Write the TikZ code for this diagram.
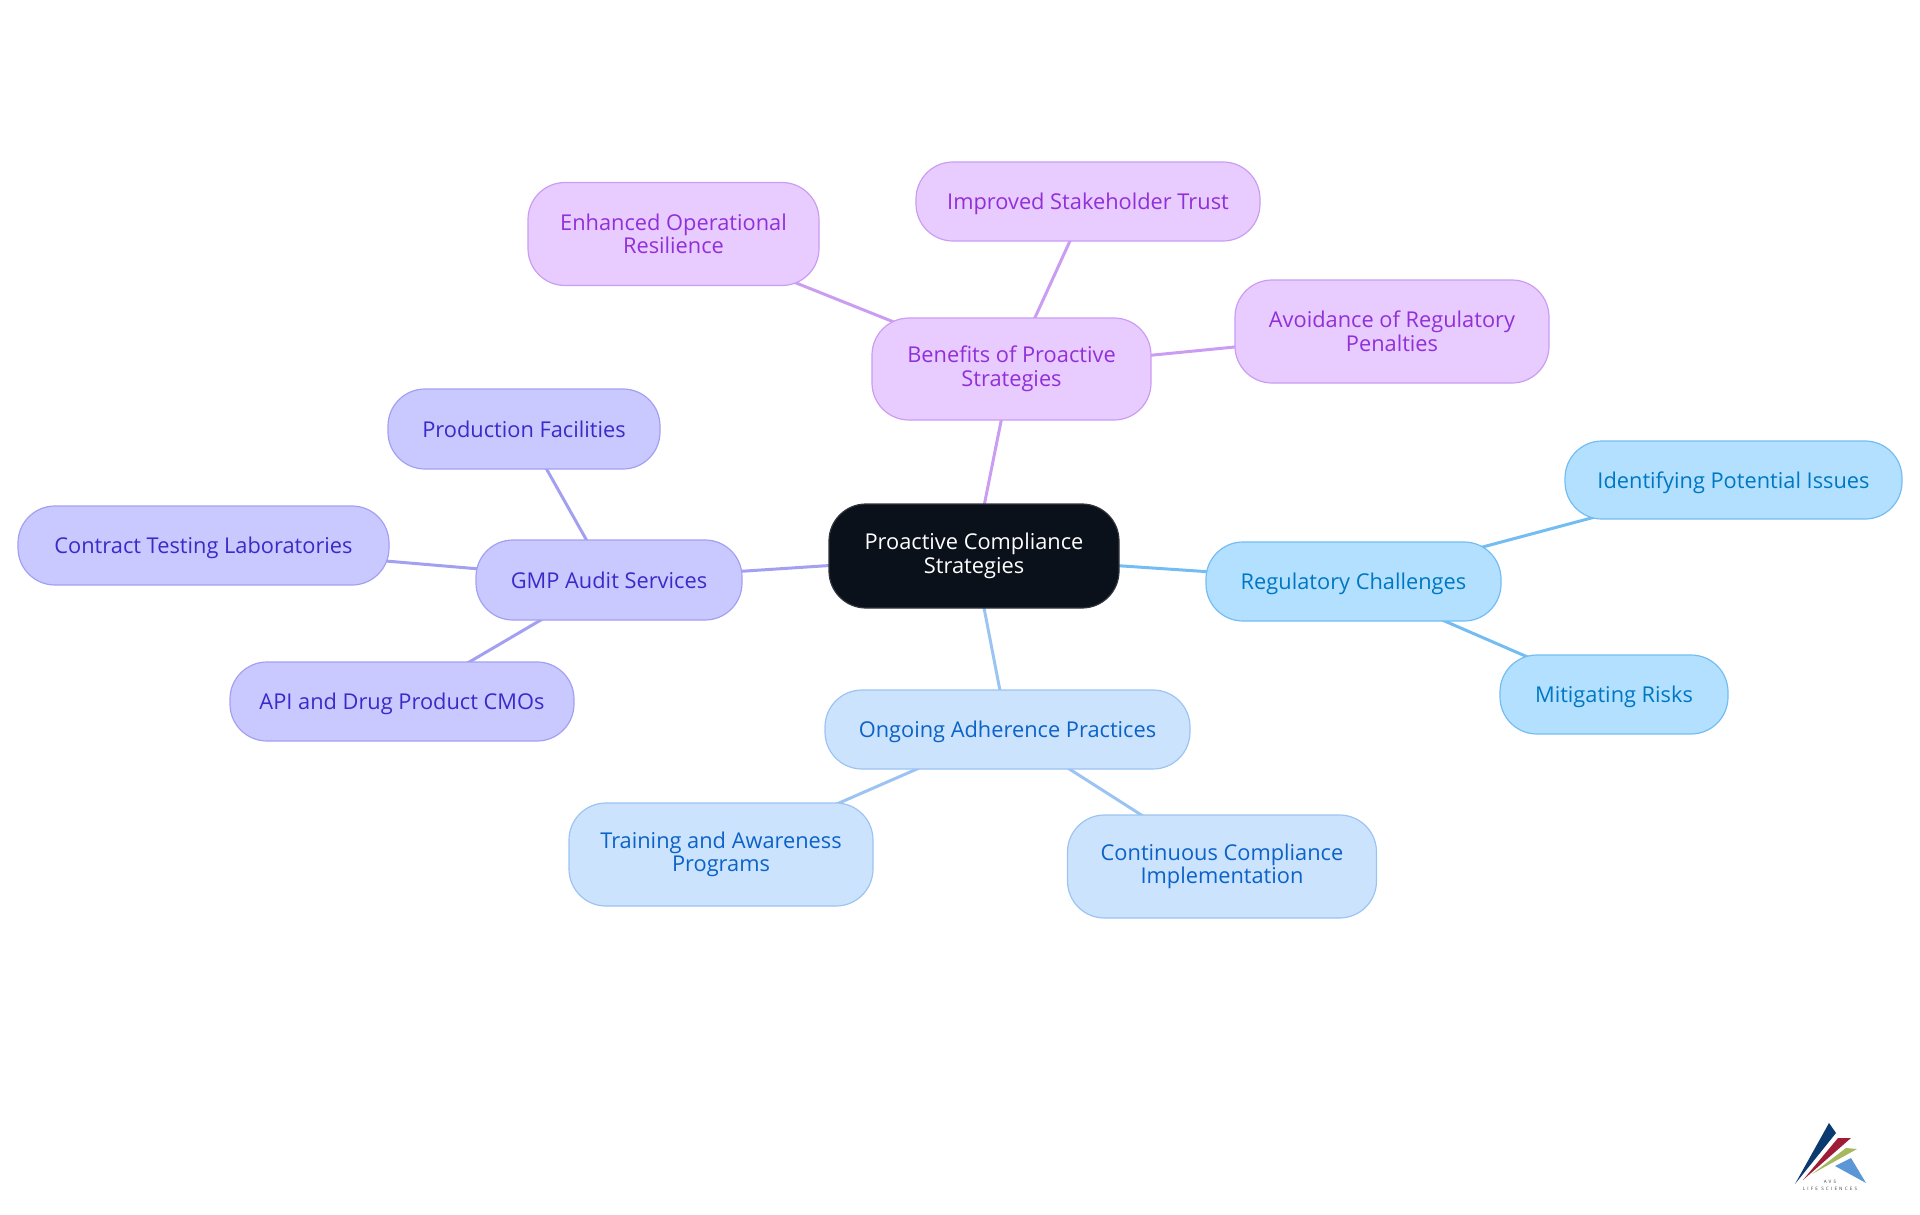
\documentclass[tikz,border=0pt]{standalone}
\usepackage{fontspec}
\setmainfont{Open Sans}
\usepackage{xcolor}
\usetikzlibrary{positioning,backgrounds}
\definecolor{rootfill}{HTML}{0B111A}
\definecolor{purplefill}{HTML}{E8CBFF}
\definecolor{purpledraw}{HTML}{CB9DF2}
\definecolor{purpletext}{HTML}{9130D8}
\definecolor{lavfill}{HTML}{C9C9FF}
\definecolor{lavdraw}{HTML}{A3A0F2}
\definecolor{lavtext}{HTML}{3A2BC8}
\definecolor{bluefill}{HTML}{CCE3FD}
\definecolor{bluedraw}{HTML}{9CC4F2}
\definecolor{bluetext}{HTML}{0B62C9}
\definecolor{skyfill}{HTML}{B3E0FF}
\definecolor{skydraw}{HTML}{73BDF2}
\definecolor{skytext}{HTML}{0077C2}
\definecolor{logonavy}{HTML}{0B3A70}
\definecolor{logored}{HTML}{A01C36}
\definecolor{logogreen}{HTML}{A8B860}
\definecolor{logoblue}{HTML}{5B96D6}
\tikzset{
  blk/.style={draw, rounded corners=37pt, outer sep=0pt, inner sep=0pt, line width=1.2pt, align=center, font=\fontsize{21.8}{23.5}\selectfont},
  rootblk/.style={blk, fill=rootfill, draw=rootfill!85!white, text=white, minimum width=290pt, minimum height=104pt},
  purpleblk/.style={blk, fill=purplefill, draw=purpledraw, text=purpletext},
  lavblk/.style={blk, fill=lavfill, draw=lavdraw, text=lavtext},
  blueblk/.style={blk, fill=bluefill, draw=bluedraw, text=bluetext},
  skyblk/.style={blk, fill=skyfill, draw=skydraw, text=skytext},
  dim/.style 2 args={minimum width=#1pt, minimum height=#2pt},
  oneline/.style={text height=21pt, text depth=5pt},
  arr/.style={line width=3pt},
}
\begin{document}
\begin{tikzpicture}
\useasboundingbox (0pt,0pt) rectangle (1920pt,-1215pt);
\node[rootblk] (root) at (974pt,-556pt) {Proactive Compliance\\Strategies};
% right branch
\node[skyblk, oneline, dim={295}{79}, right=87pt of root, yshift=-25.5pt] (reg) {Regulatory Challenges};
\node[skyblk, oneline, dim={337}{78}, right=64pt of reg, yshift=101.5pt] (issues) {Identifying Potential Issues};
\node[skyblk, oneline, dim={228}{79}, below=34pt of reg, xshift=260.5pt] (risks) {Mitigating Risks};
% bottom branch
\node[blueblk, oneline, dim={365}{79}, below=82pt of root, xshift=33.5pt] (adh) {Ongoing Adherence Practices};
\node[blueblk, dim={304}{103}, below=34pt of adh, xshift=-286.5pt] (train) {Training and Awareness\\Programs};
\node[blueblk, dim={309}{103}, below=46pt of adh, xshift=214.5pt] (impl) {Continuous Compliance\\Implementation};
% left branch
\node[lavblk, oneline, dim={266}{80}, left=87pt of root, yshift=-24pt] (gmp) {GMP Audit Services};
\node[lavblk, oneline, dim={272}{80}, above=71pt of gmp, xshift=-85pt] (prod) {Production Facilities};
\node[lavblk, oneline, dim={371}{79}, left=87pt of gmp, yshift=34.5pt] (labs) {Contract Testing Laboratories};
\node[lavblk, oneline, dim={344}{79}, below=42pt of gmp, xshift=-207pt] (cmos) {API and Drug Product CMOs};
% top branch
\node[purpleblk, dim={279}{102}, above=84pt of root, xshift=37.5pt] (ben) {Benefits of Proactive\\Strategies};
\node[purpleblk, dim={291}{103}, left=53pt of ben, yshift=135pt] (res) {Enhanced Operational\\Resilience};
\node[purpleblk, oneline, dim={344}{79}, above=77pt of ben, xshift=76.5pt] (trust) {Improved Stakeholder Trust};
\node[purpleblk, dim={314}{103}, right=84pt of ben, yshift=37.5pt] (pen) {Avoidance of Regulatory\\Penalties};
\begin{scope}[on background layer]
\foreach \a/\b/\c in {root/reg/skydraw,reg/issues/skydraw,reg/risks/skydraw,root/adh/bluedraw,adh/train/bluedraw,adh/impl/bluedraw,root/gmp/lavdraw,gmp/prod/lavdraw,gmp/labs/lavdraw,gmp/cmos/lavdraw,root/ben/purpledraw,ben/res/purpledraw,ben/trust/purpledraw,ben/pen/purpledraw} \draw[arr, \c] (\a.center) -- (\b.center);
\end{scope}
% logo
\fill[logonavy] (1795pt,-1184pt) -- (1829pt,-1123pt) -- (1836pt,-1133pt) -- cycle;
\fill[logored] (1803pt,-1180pt) -- (1838pt,-1138pt) -- (1851pt,-1138pt) -- cycle;
\fill[logogreen] (1812pt,-1174pt) -- (1846pt,-1148pt) -- (1857pt,-1149pt) -- cycle;
\fill[logoblue] (1851pt,-1158pt) -- (1866pt,-1183pt) -- (1835pt,-1166pt) -- cycle;
\node[font=\fontsize{4.6}{7}\selectfont\addfontfeatures{LetterSpace=47}, text=black!75, align=center, inner sep=0pt] (avs) at (1830pt,-1185.5pt) {AVS\\LIFE SCIENCES};
\end{tikzpicture}
\end{document}
